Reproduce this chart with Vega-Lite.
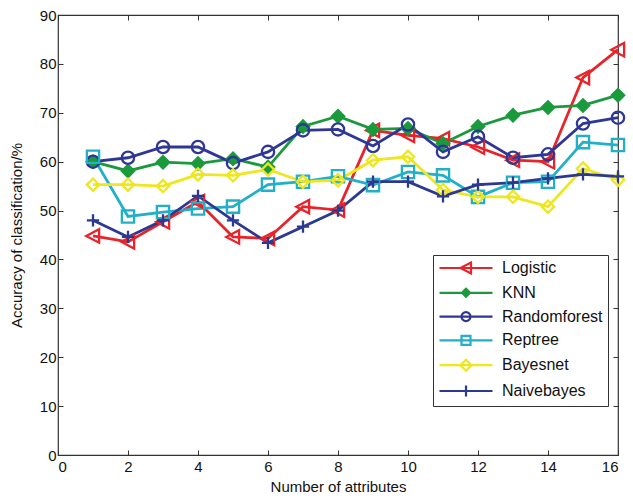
{
  "$schema": "https://vega.github.io/schema/vega-lite/v6.json",
  "autosize": "none",
  "width": 560,
  "height": 440,
  "padding": {"left": 58, "top": 15, "right": 15, "bottom": 47},
  "background": "white",
  "config": {
    "view": {"stroke": "#333", "strokeWidth": 1.2},
    "font": "Liberation Sans",
    "axis": {"labelFont": "Liberation Sans", "titleFont": "Liberation Sans", "labelFontSize": 15, "titleFontSize": 15, "titleFontWeight": "normal", "labelColor": "#111", "titleColor": "#111", "grid": false, "domain": false, "tickColor": "#333", "tickSize": -5, "tickWidth": 1}
  },
  "data": {"values": [
    {"n":1,"m":"Logistic","v":44.8},{"n":2,"m":"Logistic","v":43.6},{"n":3,"m":"Logistic","v":47.7},{"n":4,"m":"Logistic","v":51.8},{"n":5,"m":"Logistic","v":44.6},{"n":6,"m":"Logistic","v":44.3},{"n":7,"m":"Logistic","v":50.8},{"n":8,"m":"Logistic","v":50.1},{"n":9,"m":"Logistic","v":66.4},{"n":10,"m":"Logistic","v":65.4},{"n":11,"m":"Logistic","v":64.7},{"n":12,"m":"Logistic","v":63.0},{"n":13,"m":"Logistic","v":60.3},{"n":14,"m":"Logistic","v":60.0},{"n":15,"m":"Logistic","v":77.2},{"n":16,"m":"Logistic","v":82.9},
    {"n":1,"m":"KNN","v":60.0},{"n":2,"m":"KNN","v":58.1},{"n":3,"m":"KNN","v":59.9},{"n":4,"m":"KNN","v":59.6},{"n":5,"m":"KNN","v":60.6},{"n":6,"m":"KNN","v":58.9},{"n":7,"m":"KNN","v":67.2},{"n":8,"m":"KNN","v":69.3},{"n":9,"m":"KNN","v":66.6},{"n":10,"m":"KNN","v":66.8},{"n":11,"m":"KNN","v":63.7},{"n":12,"m":"KNN","v":67.2},{"n":13,"m":"KNN","v":69.5},{"n":14,"m":"KNN","v":71.1},{"n":15,"m":"KNN","v":71.5},{"n":16,"m":"KNN","v":73.6},
    {"n":1,"m":"Randomforest","v":60.0},{"n":2,"m":"Randomforest","v":60.8},{"n":3,"m":"Randomforest","v":63.0},{"n":4,"m":"Randomforest","v":63.0},{"n":5,"m":"Randomforest","v":59.7},{"n":6,"m":"Randomforest","v":62.0},{"n":7,"m":"Randomforest","v":66.4},{"n":8,"m":"Randomforest","v":66.6},{"n":9,"m":"Randomforest","v":63.2},{"n":10,"m":"Randomforest","v":67.6},{"n":11,"m":"Randomforest","v":62.0},{"n":12,"m":"Randomforest","v":65.1},{"n":13,"m":"Randomforest","v":60.8},{"n":14,"m":"Randomforest","v":61.5},{"n":15,"m":"Randomforest","v":67.8},{"n":16,"m":"Randomforest","v":69.0},
    {"n":1,"m":"Reptree","v":61.0},{"n":2,"m":"Reptree","v":48.8},{"n":3,"m":"Reptree","v":49.7},{"n":4,"m":"Reptree","v":50.4},{"n":5,"m":"Reptree","v":50.8},{"n":6,"m":"Reptree","v":55.3},{"n":7,"m":"Reptree","v":55.9},{"n":8,"m":"Reptree","v":57.0},{"n":9,"m":"Reptree","v":55.2},{"n":10,"m":"Reptree","v":57.9},{"n":11,"m":"Reptree","v":57.2},{"n":12,"m":"Reptree","v":52.8},{"n":13,"m":"Reptree","v":55.7},{"n":14,"m":"Reptree","v":55.9},{"n":15,"m":"Reptree","v":64.0},{"n":16,"m":"Reptree","v":63.4},
    {"n":1,"m":"Bayesnet","v":55.3},{"n":2,"m":"Bayesnet","v":55.3},{"n":3,"m":"Bayesnet","v":55.0},{"n":4,"m":"Bayesnet","v":57.4},{"n":5,"m":"Bayesnet","v":57.2},{"n":6,"m":"Bayesnet","v":58.4},{"n":7,"m":"Bayesnet","v":55.9},{"n":8,"m":"Bayesnet","v":56.2},{"n":9,"m":"Bayesnet","v":60.3},{"n":10,"m":"Bayesnet","v":61.0},{"n":11,"m":"Bayesnet","v":54.2},{"n":12,"m":"Bayesnet","v":52.8},{"n":13,"m":"Bayesnet","v":52.8},{"n":14,"m":"Bayesnet","v":50.8},{"n":15,"m":"Bayesnet","v":58.6},{"n":16,"m":"Bayesnet","v":56.3},
    {"n":1,"m":"Naivebayes","v":48.0},{"n":2,"m":"Naivebayes","v":44.6},{"n":3,"m":"Naivebayes","v":48.0},{"n":4,"m":"Naivebayes","v":53.0},{"n":5,"m":"Naivebayes","v":48.0},{"n":6,"m":"Naivebayes","v":43.4},{"n":7,"m":"Naivebayes","v":46.7},{"n":8,"m":"Naivebayes","v":50.0},{"n":9,"m":"Naivebayes","v":55.9},{"n":10,"m":"Naivebayes","v":55.9},{"n":11,"m":"Naivebayes","v":52.9},{"n":12,"m":"Naivebayes","v":55.3},{"n":13,"m":"Naivebayes","v":55.7},{"n":14,"m":"Naivebayes","v":56.6},{"n":15,"m":"Naivebayes","v":57.4},{"n":16,"m":"Naivebayes","v":57.0}
  ]},
  "layer": [
    {
      "mark": {"type": "line", "strokeWidth": 2.8},
      "encoding": {
        "x": {"field": "n", "type": "quantitative", "scale": {"domain": [0, 16], "nice": false}, "axis": {"title": "Number of attributes", "values": [0,2,4,6,8,10,12,14,16], "labelPadding": 9, "titlePadding": 5}},
        "y": {"field": "v", "type": "quantitative", "scale": {"domain": [0, 90], "nice": false}, "axis": {"title": "Accuracy of classification/%", "values": [0,10,20,30,40,50,60,70,80,90], "labelPadding": 7, "titlePadding": 15}},
        "color": {"field": "m", "type": "nominal", "sort": ["Logistic","KNN","Randomforest","Reptree","Bayesnet","Naivebayes"],
          "scale": {"domain": ["Logistic","KNN","Randomforest","Reptree","Bayesnet","Naivebayes"], "range": ["#e8232a","#1a9a3c","#2e3796","#22b0c8","#eee61e","#2b3990"]},
          "legend": {
            "title": null, "orient": "none", "legendX": 375, "legendY": 240,
            "fillColor": "white", "strokeColor": "#333", "padding": 5,
            "labelFont": "Liberation Sans", "labelFontSize": 16, "labelColor": "#111",
            "symbolSize": 100, "symbolStrokeWidth": 2.2, "symbolOffset": 20, "labelOffset": 28, "rowPadding": 5.8, "labelLimit": 200,
            "encode": {"symbols": {"update": {
              "shape": {"signal": "datum.value === 'Logistic' ? 'M-5.3,0H5.3M-1.1,0L1,-1.1L1,1.1Z' : datum.value === 'KNN' ? 'M-5.3,0H5.3M0,-0.8L0.8,0L0,0.8L-0.8,0Z' : datum.value === 'Randomforest' ? 'M-5.3,0H5.3M-0.9,0A0.9,0.9 0 1,0 0.9,0A0.9,0.9 0 1,0 -0.9,0Z' : datum.value === 'Reptree' ? 'M-5.3,0H5.3M-0.9,-0.9H0.9V0.9H-0.9Z' : datum.value === 'Bayesnet' ? 'M-5.3,0H5.3M0,-1.1L1.1,0L0,1.1L-1.1,0Z' : 'M-5.3,0H5.3M0,-1.1V1.1'"},
              "fill": {"signal": "datum.value === 'KNN' ? '#1a9a3c' : 'transparent'"},
              "opacity": {"value": 1}
            }}}
          }
        }
      }
    },
    {
      "mark": {"type": "point", "filled": false, "strokeWidth": 2.3, "opacity": 1},
      "encoding": {
        "x": {"field": "n", "type": "quantitative", "axis": null},
        "y": {"field": "v", "type": "quantitative", "axis": null},
        "color": {"field": "m", "type": "nominal", "legend": null},
        "fill": {"condition": {"test": "datum.m === 'KNN'", "value": "#1a9a3c"}, "value": "transparent"},
        "shape": {"field": "m", "type": "nominal", "legend": null,
          "scale": {"domain": ["Naivebayes","Bayesnet","Reptree","Randomforest","KNN","Logistic"], "range": ["M-1,0H1M0,-1V1","diamond","square","circle","diamond","M-1.1,0L1,-1.1L1,1.1Z"]}},
        "size": {"field": "m", "type": "nominal", "legend": null,
          "scale": {"domain": ["Bayesnet","Naivebayes","KNN","Logistic","Reptree","Randomforest"], "range": [150, 150, 70, 150, 130, 130]}}
      }
    },
    {
      "mark": {"type": "rule", "opacity": 0},
      "encoding": {
        "x": {"field": "n", "type": "quantitative", "axis": {"orient": "top", "title": null, "labels": false, "values": [0,2,4,6,8,10,12,14,16]}},
        "y": {"field": "v", "type": "quantitative", "axis": {"orient": "right", "title": null, "labels": false, "values": [0,10,20,30,40,50,60,70,80,90]}}
      }
    }
  ],
  "resolve": {"axis": {"x": "independent", "y": "independent"}}
}
